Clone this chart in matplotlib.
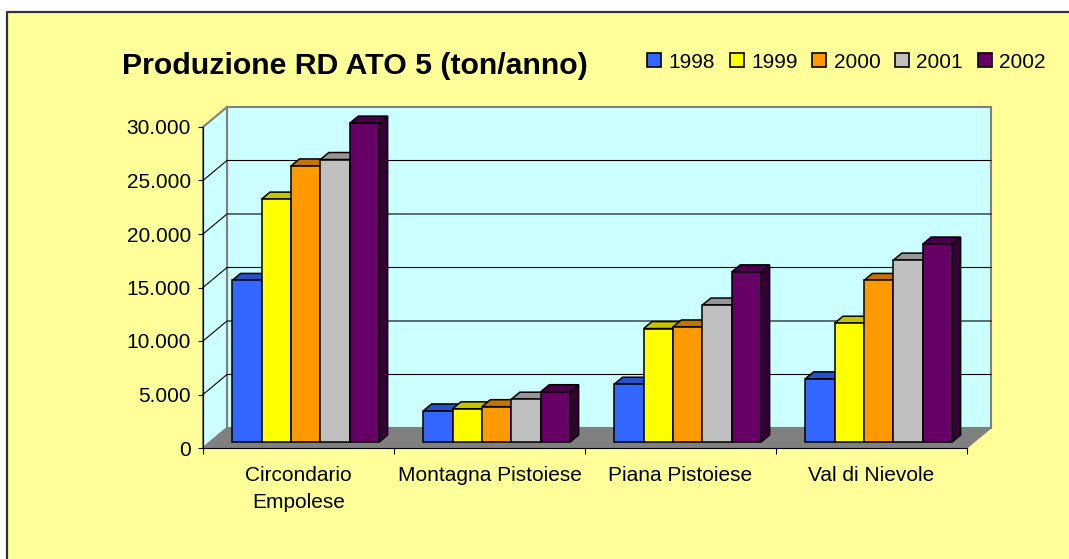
import matplotlib
matplotlib.use("Agg")
import matplotlib.pyplot as plt
from matplotlib.patches import Polygon, Patch, Rectangle
from matplotlib.lines import Line2D
from matplotlib.transforms import ScaledTranslation, IdentityTransform
from matplotlib.ticker import FuncFormatter, FixedLocator

plt.rcParams['font.family'] = ['Liberation Sans', 'DejaVu Sans']

categories = ['Circondario\nEmpolese', 'Montagna Pistoiese', 'Piana Pistoiese', 'Val di Nievole']
years = ['1998', '1999', '2000', '2001', '2002']
v1998 = [15100, 2900, 5400, 5900]
v1999 = [22700, 3100, 10600, 11100]
v2000 = [25800, 3300, 10750, 15100]
v2001 = [26400, 4000, 12800, 17000]
v2002 = [29800, 4700, 15900, 18500]
series = [v1998, v1999, v2000, v2001, v2002]
yticks = [0, 5000, 10000, 15000, 20000, 25000, 30000]

front_cols = ['#3366FF', '#FFFF00', '#FF9900', '#C0C0C0', '#660066']
top_cols = ['#2850C8', '#C4C400', '#C47400', '#969696', '#4A004A']
side_cols = ['#1E3C99', '#999900', '#995A00', '#7A7A7A', '#330033']

W, H, DPI = 1069, 559, 100
DX, DY = 24, 20          # depth offset of back wall in pixels
DF, DB = 0.3, 0.65       # bar front / back depth
bw = 0.154

fig = plt.figure(figsize=(W / DPI, H / DPI), dpi=DPI, facecolor='white')
fig.add_artist(Rectangle((7 / W, 0), 1 - 7 / W, 1 - 12 / H, transform=fig.transFigure,
                         facecolor='#FFFF99', edgecolor='none', zorder=0))
fig.add_artist(Line2D([7 / W, 7 / W, 1], [0, 1 - 12 / H, 1 - 12 / H], transform=fig.transFigure,
                      color='#333333', lw=1.6, zorder=0.1))

ax = fig.add_axes([203 / W, (H - 448) / H, (967 - 203) / W, (448 - 127) / H])
ax.set_xlim(-0.5, 3.5)
ax.set_ylim(0, 30000)
ax.patch.set_visible(False)
for s in ['top', 'right']:
    ax.spines[s].set_visible(False)
ax.spines['left'].set_color('black')
ax.spines['left'].set_linewidth(0.8)
ax.spines['bottom'].set_color('black')
ax.spines['bottom'].set_linewidth(0.8)

ax.yaxis.set_major_locator(FixedLocator(yticks))
ax.yaxis.set_major_formatter(FuncFormatter(lambda v, p: f'{int(v):,}'.replace(',', '.')))
ax.tick_params(axis='y', length=3.6, width=0.8, pad=5, labelsize=15, color='black')

ax.set_xticks(range(len(categories)))
ax.set_xticklabels(categories, fontsize=15, linespacing=1.55)
ax.set_xticks([-0.5, 0.5, 1.5, 2.5, 3.5], minor=True)
ax.tick_params(axis='x', which='major', length=0, pad=13)
ax.tick_params(axis='x', which='minor', length=4.3, width=0.8, color='black')


def pt(x, y, d):
    X, Y = ax.transData.transform((x, y))
    return (X + DX * d, Y + DY * d)


def poly(pts, **kw):
    ax.add_patch(Polygon(pts, closed=True, transform=IdentityTransform(), clip_on=False, **kw))


x0, x1 = -0.5, 3.5
ytop = yticks[-1]
# walls and floor
poly([pt(x0, 0, 1), pt(x1, 0, 1), pt(x1, ytop, 1), pt(x0, ytop, 1)],
     facecolor='#CCFFFF', edgecolor='#808080', lw=1.5, zorder=0.5)
poly([pt(x0, 0, 0), pt(x0, 0, 1), pt(x0, ytop, 1), pt(x0, ytop, 0)],
     facecolor='#CCFFFF', edgecolor='#808080', lw=1.5, zorder=0.6)
poly([pt(x0, 0, 0), pt(x1, 0, 0), pt(x1, 0, 1), pt(x0, 0, 1)],
     facecolor='#808080', edgecolor='#808080', lw=0.8, zorder=0.7)
for v in yticks[1:-1]:
    a, b, c = pt(x0, v, 0), pt(x0, v, 1), pt(x1, v, 1)
    ax.plot([a[0], b[0], c[0]], [a[1], b[1], c[1]], color='black', lw=0.8,
            transform=IdentityTransform(), clip_on=False, zorder=0.8)

# bars
off = ax.transData + ScaledTranslation(DX * DF / DPI, DY * DF / DPI, fig.dpi_scale_trans)
for i, vals in enumerate(series):
    xs = [j + (i - 2) * bw for j in range(len(categories))]
    ax.bar(xs, vals, width=bw, color=front_cols[i], edgecolor='black', lw=1.1,
           transform=off, zorder=4 + 2 * i, clip_on=False)
    for x, h in zip(xs, vals):
        l, r = x - bw / 2, x + bw / 2
        poly([pt(r, 0, DF), pt(r, 0, DB), pt(r, h, DB), pt(r, h, DF)],
             facecolor=side_cols[i], edgecolor='black', lw=1.1, zorder=3 + 2 * i)
        poly([pt(l, h, DF), pt(r, h, DF), pt(r, h, DB), pt(l, h, DB)],
             facecolor=top_cols[i], edgecolor='black', lw=1.1, zorder=3 + 2 * i)

fig.text(122 / W, 1 - 74 / H, 'Produzione RD ATO 5 (ton/anno)', fontsize=21.8,
         fontweight='bold', va='baseline', ha='left')

handles = [Patch(facecolor=c, edgecolor='black', lw=1.2) for c in front_cols]
fig.legend(handles, years, ncol=5, loc='center left', bbox_to_anchor=(647 / W, 1 - 62 / H),
           frameon=False, fontsize=15, handlelength=0.68, handleheight=0.68,
           handletextpad=0.35, columnspacing=0.7, borderpad=0, borderaxespad=0)

fig.savefig('out.png', dpi=DPI, facecolor=fig.get_facecolor())
